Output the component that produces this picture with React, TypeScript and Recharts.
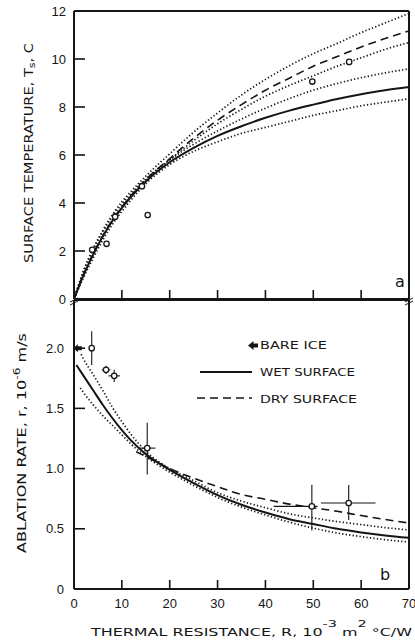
import { ComposedChart, Line, Scatter, XAxis, YAxis, ErrorBar, Label } from 'recharts'

// ---- panel a: surface temperature Ts (C) vs thermal resistance R (10^-3 m2 C/W) ----
const tsR = [0, 2, 4, 6, 8, 10, 12, 15, 20, 25, 30, 35, 40, 45, 50, 55, 60, 65, 70]
const tsWet = [0, 1.0, 1.85, 2.6, 3.25, 3.8, 4.28, 4.9, 5.7, 6.3, 6.8, 7.2, 7.55, 7.85, 8.1, 8.33, 8.53, 8.7, 8.83]
const tsWetHi = [0, 1.15, 2.05, 2.8, 3.42, 3.95, 4.4, 5.0, 5.8, 6.45, 7.0, 7.5, 7.95, 8.35, 8.7, 8.98, 9.22, 9.42, 9.59]
const tsWetLo = [0, 0.9, 1.7, 2.45, 3.1, 3.65, 4.15, 4.8, 5.6, 6.15, 6.55, 6.9, 7.15, 7.4, 7.65, 7.85, 8.05, 8.2, 8.34]
const tsDry = [0, 1.02, 1.88, 2.63, 3.28, 3.84, 4.33, 4.97, 5.85, 6.7, 7.45, 8.1, 8.7, 9.2, 9.7, 10.1, 10.5, 10.85, 11.17]
const tsDryHi = [0, 1.2, 2.1, 2.85, 3.5, 4.05, 4.5, 5.12, 6.05, 6.95, 7.75, 8.5, 9.15, 9.72, 10.22, 10.65, 11.1, 11.5, 11.9]
const tsDryLo = [0, 1.0, 1.85, 2.6, 3.25, 3.8, 4.3, 4.93, 5.8, 6.6, 7.3, 7.9, 8.45, 8.9, 9.3, 9.7, 10.05, 10.4, 10.69]
const tsObsR = [3.8, 6.8, 8.6, 14.2, 15.4, 49.8, 57.5]
const tsObs = [2.05, 2.3, 3.43, 4.7, 3.5, 9.06, 9.88]

// ---- panel b: ablation rate r (10^-6 m/s) vs R ----
const abWetR = [0.5, 2, 4, 6, 8, 10, 12, 15, 20, 25, 30, 35, 40, 45, 50, 55, 60, 65, 70]
const abWet = [1.86, 1.77, 1.65, 1.53, 1.42, 1.32, 1.23, 1.12, 0.99, 0.88, 0.78, 0.7, 0.635, 0.58, 0.54, 0.5, 0.47, 0.445, 0.425]
const abWetHiR = [1.5, 2, 4, 6, 8, 10, 12, 15, 20, 25, 30, 35, 40, 45, 50, 55, 60, 65, 70]
const abWetHi = [1.95, 1.91, 1.78, 1.65, 1.51, 1.39, 1.28, 1.145, 1.0, 0.9, 0.8, 0.73, 0.675, 0.625, 0.59, 0.56, 0.535, 0.51, 0.49]
const abWetLoR = [1.3, 2, 4, 6, 8, 10, 12, 15, 20, 25, 30, 35, 40, 45, 50, 55, 60, 65, 70]
const abWetLo = [1.67, 1.63, 1.53, 1.44, 1.36, 1.28, 1.2, 1.1, 0.97, 0.86, 0.76, 0.68, 0.615, 0.555, 0.505, 0.465, 0.435, 0.41, 0.39]
const abDryR = [13, 15, 20, 25, 30, 35, 40, 45, 50, 55, 60, 65, 70]
const abDry = [1.14, 1.1, 1.0, 0.92, 0.85, 0.785, 0.745, 0.705, 0.675, 0.645, 0.61, 0.578, 0.548]
const abObsR = [3.7, 6.7, 8.4, 15.3, 49.7, 57.4]
const abObs = [2.0, 1.82, 1.77, 1.17, 0.686, 0.714]
const abObsErrR = [[0, 0], [0.9, 0.9], [1.2, 1.2], [1.8, 1.7], [8, 1.2], [5.8, 5.6]]
const abObsErrRate = [[0.14, 0.14], [0.035, 0.035], [0.05, 0.05], [0.22, 0.21], [0.2, 0.18], [0.14, 0.15]]
const bareIceR = [0.8]
const bareIce = [2.0]

const xTicks = [0, 10, 20, 30, 40, 50, 60, 70]
const xInner = [10, 20, 30, 40, 50, 60]
const tsTicks = [0, 2, 4, 6, 8, 10, 12]
const tsInner = [2, 4, 6, 8, 10]
const abTicks = [0, 0.5, 1, 1.5, 2]
const abInner = [0.5, 1, 1.5, 2]

const FONT = '"DejaVu Sans", Verdana, sans-serif'
const NUM_FONT = '"Liberation Sans", Arial, sans-serif'
const INK = '#151515'

// plot frame (chart coords)
const PL = 74
const PR = 409
const A_TOP = 11
const A_BOT = 299
const B_TOP = 1
const B_BOT = 290

const rows = (xs: number[], ys: number[], key: string) => xs.map((R, i) => ({ R, [key]: ys[i] }))

const tsObsData = tsObsR.map((R, i) => ({ R, ts: tsObs[i] }))
const abObsData = abObsR.map((R, i) => ({ R, rate: abObs[i], ex: abObsErrR[i], ey: abObsErrRate[i] }))
const iceData = bareIceR.map((R, i) => ({ R, ice: bareIce[i] }))

const axisLine = { stroke: INK, strokeWidth: 2 }

const leftTick = (top: number, bot: number, labelX: number, fmt: (v: number) => string) => (p: any) => (
  <g>
    {p.y > top + 1 && p.y < bot - 1 && (
      <line x1={PL} x2={PL + 11} y1={p.y} y2={p.y} stroke={INK} strokeWidth={1.6} />
    )}
    <text x={labelX} y={p.y} dy={4.6} textAnchor="end" fontFamily={NUM_FONT} fontSize={13} fill={INK}>
      {fmt(p.payload.value)}
    </text>
  </g>
)

const rightTick = (p: any) => (
  <line x1={PR - 10} x2={PR} y1={p.y} y2={p.y} stroke={INK} strokeWidth={1.6} />
)

const topTick = (top: number, len: number) => (p: any) => (
  <line x1={p.x} x2={p.x} y1={top} y2={top + len} stroke={INK} strokeWidth={1.6} />
)

const bottomTick = (bot: number, withLabel: boolean) => (p: any) => (
  <g>
    {p.payload.value > 0 && p.payload.value < 70 && (
      <line x1={p.x} x2={p.x} y1={bot - 9} y2={bot} stroke={INK} strokeWidth={1.6} />
    )}
    {withLabel && (
      <text x={p.x} y={bot + 18.5} textAnchor="middle" fontFamily={NUM_FONT} fontSize={13} fill={INK}>
        {p.payload.value}
      </text>
    )}
  </g>
)

const circle = (p: any) => (
  <circle cx={p.cx} cy={p.cy} r={2.7} fill="#fff" stroke={INK} strokeWidth={1.3} />
)

const arrow = (p: any) => (
  <polygon
    points={`${p.cx - 4.5},${p.cy} ${p.cx},${p.cy - 4} ${p.cx},${p.cy - 2} ${p.cx + 4},${p.cy - 2} ${p.cx + 4},${p.cy + 2} ${p.cx},${p.cy + 2} ${p.cx},${p.cy + 4}`}
    fill={INK}
  />
)

const TsTitle = () => (
  <text
    x={28}
    y={153}
    transform="rotate(-90 28 153)"
    textAnchor="middle"
    dominantBaseline="central"
    fontFamily={FONT}
    fontSize={12.5}
    fill={INK}
    textLength={220}
    lengthAdjust="spacingAndGlyphs"
  >
    SURFACE TEMPERATURE, T<tspan dy={3} fontSize={9.5}>s</tspan><tspan dy={-3}>,  C</tspan>
  </text>
)

const RateTitle = () => (
  <text
    x={21}
    y={144}
    transform="rotate(-90 21 144)"
    textAnchor="middle"
    dominantBaseline="central"
    fontFamily={FONT}
    fontSize={12.5}
    fill={INK}
    textLength={220}
    lengthAdjust="spacingAndGlyphs"
  >
    ABLATION RATE, r, 10<tspan dy={-5} fontSize={9.5}>-6</tspan><tspan dy={5}> m/s</tspan>
  </text>
)

const RTitle = () => (
  <text x={91} y={337} fontFamily={FONT} fontSize={10.5} fill={INK} textLength={321} lengthAdjust="spacingAndGlyphs">
    THERMAL RESISTANCE, R, 10<tspan dy={-9} fontSize={9.5}>-3</tspan>
    <tspan dy={9}> m</tspan><tspan dy={-9} fontSize={9.5}>2</tspan>
    <tspan dy={9}> °C/W</tspan>
  </text>
)

const dotted = { stroke: INK, strokeWidth: 1.7, strokeDasharray: '1.3 2.2' }

export default function App() {
  return (
    <div style={{ position: 'absolute', left: 0, top: 0, width: 415, height: 642, background: '#fff' }}>
      {/* panel a (extra bottom margin so the "0" label is not clipped) */}
      <div style={{ position: 'absolute', left: 0, top: 0 }}>
        <ComposedChart width={415} height={312} margin={{ top: 10, right: 0, bottom: 12, left: 0 }}>
          <XAxis dataKey="R" type="number" domain={[0, 70]} ticks={xTicks} interval={0} height={1}
            axisLine={axisLine} tickLine={false} tick={bottomTick(A_BOT, false)} />
          <XAxis xAxisId="top" orientation="top" type="number" domain={[0, 70]} ticks={xInner} interval={0}
            height={1} axisLine={axisLine} tickLine={false} tick={topTick(A_TOP, 10)} />
          <YAxis type="number" domain={[0, 12]} ticks={tsTicks} interval={0} width={74}
            axisLine={axisLine} tickLine={false} tick={leftTick(A_TOP, A_BOT, 66, (v) => String(v))}>
            <Label content={() => <TsTitle />} />
          </YAxis>
          <YAxis yAxisId="right" orientation="right" type="number" domain={[0, 12]} ticks={tsInner} interval={0}
            width={6} axisLine={axisLine} tickLine={false} tick={rightTick} />
          <Line data={rows(tsR, tsDryHi, 'dryHi')} dataKey="dryHi" type="monotone" {...dotted} dot={false} isAnimationActive={false} />
          <Line data={rows(tsR, tsDryLo, 'dryLo')} dataKey="dryLo" type="monotone" {...dotted} dot={false} isAnimationActive={false} />
          <Line data={rows(tsR, tsWetHi, 'wetHi')} dataKey="wetHi" type="monotone" {...dotted} dot={false} isAnimationActive={false} />
          <Line data={rows(tsR, tsWetLo, 'wetLo')} dataKey="wetLo" type="monotone" {...dotted} dot={false} isAnimationActive={false} />
          <Line data={rows(tsR, tsDry, 'dry')} dataKey="dry" type="monotone" stroke={INK} strokeWidth={1.6}
            strokeDasharray="8 5" dot={false} isAnimationActive={false} />
          <Line data={rows(tsR, tsWet, 'wet')} dataKey="wet" type="monotone" stroke={INK} strokeWidth={2}
            dot={false} isAnimationActive={false} />
          <Scatter data={tsObsData} dataKey="ts" shape={circle} isAnimationActive={false} />
        </ComposedChart>
      </div>

      {/* panel b */}
      <div style={{ position: 'absolute', left: 0, top: 299 }}>
        <ComposedChart width={415} height={343} margin={{ top: 0, right: 0, bottom: 0, left: 0 }}>
          <XAxis dataKey="R" type="number" domain={[0, 70]} ticks={xTicks} interval={0} height={53}
            axisLine={axisLine} tickLine={false} tick={bottomTick(B_BOT, true)}>
            <Label content={() => <RTitle />} />
          </XAxis>
          <XAxis xAxisId="top" orientation="top" type="number" domain={[0, 70]} ticks={xInner} interval={0}
            height={1} axisLine={axisLine} tickLine={false} tick={topTick(B_TOP, 5)} />
          <YAxis type="number" domain={[0, 2.4]} ticks={abTicks} interval={0} width={74}
            axisLine={axisLine} tickLine={false}
            tick={leftTick(B_TOP, B_BOT, 64, (v) => (v === 0 ? '0' : v.toFixed(1)))}>
            <Label content={() => <RateTitle />} />
          </YAxis>
          <YAxis yAxisId="right" orientation="right" type="number" domain={[0, 2.4]} ticks={abInner} interval={0}
            width={6} axisLine={axisLine} tickLine={false} tick={rightTick} />
          <Line data={rows(abWetHiR, abWetHi, 'wetHi')} dataKey="wetHi" type="monotone" {...dotted} dot={false} isAnimationActive={false} />
          <Line data={rows(abWetLoR, abWetLo, 'wetLo')} dataKey="wetLo" type="monotone" {...dotted} dot={false} isAnimationActive={false} />
          <Line data={rows(abDryR, abDry, 'dry')} dataKey="dry" type="monotone" stroke={INK} strokeWidth={1.6}
            strokeDasharray="8 5" dot={false} isAnimationActive={false} />
          <Line data={rows(abWetR, abWet, 'wet')} dataKey="wet" type="monotone" stroke={INK} strokeWidth={2}
            dot={false} isAnimationActive={false} />
          <Scatter data={abObsData} dataKey="rate" shape={circle} isAnimationActive={false}>
            <ErrorBar dataKey="ey" direction="y" width={0} stroke={INK} strokeWidth={1.1} />
            <ErrorBar dataKey="ex" direction="x" width={0} stroke={INK} strokeWidth={1.1} />
          </Scatter>
          <Scatter data={iceData} dataKey="ice" shape={arrow} isAnimationActive={false} />
        </ComposedChart>
      </div>

      {/* legend, panel letters, axis break marks */}
      <svg width={415} height={642} style={{ position: 'absolute', left: 0, top: 0, pointerEvents: 'none' }}>
        <polygon points="248,345.5 253.5,341 253.5,343.5 258,343.5 258,347.5 253.5,347.5 253.5,350" fill={INK} />
        <text x={260} y={349} fontFamily={FONT} fontSize={10.5} fill={INK} textLength={67} lengthAdjust="spacingAndGlyphs">BARE ICE</text>
        <line x1={200} x2={252} y1={372} y2={372} stroke={INK} strokeWidth={2} />
        <text x={260} y={376} fontFamily={FONT} fontSize={10.5} fill={INK} textLength={95} lengthAdjust="spacingAndGlyphs">WET SURFACE</text>
        <line x1={197} x2={252} y1={398} y2={398} stroke={INK} strokeWidth={1.6} strokeDasharray="8 5" />
        <text x={260} y={402.5} fontFamily={FONT} fontSize={10.5} fill={INK} textLength={97} lengthAdjust="spacingAndGlyphs">DRY SURFACE</text>
        <text x={400} y={287} textAnchor="middle" fontFamily={FONT} fontSize={16} fill={INK}>a</text>
        <text x={385} y={580} textAnchor="middle" fontFamily={FONT} fontSize={16} fill={INK}>b</text>
        <path d="M70,302 L78,298 M70,305 L78,301" stroke={INK} strokeWidth={1} />
        <path d="M405,302 L413,298 M405,305 L413,301" stroke={INK} strokeWidth={1} />
      </svg>
    </div>
  )
}
